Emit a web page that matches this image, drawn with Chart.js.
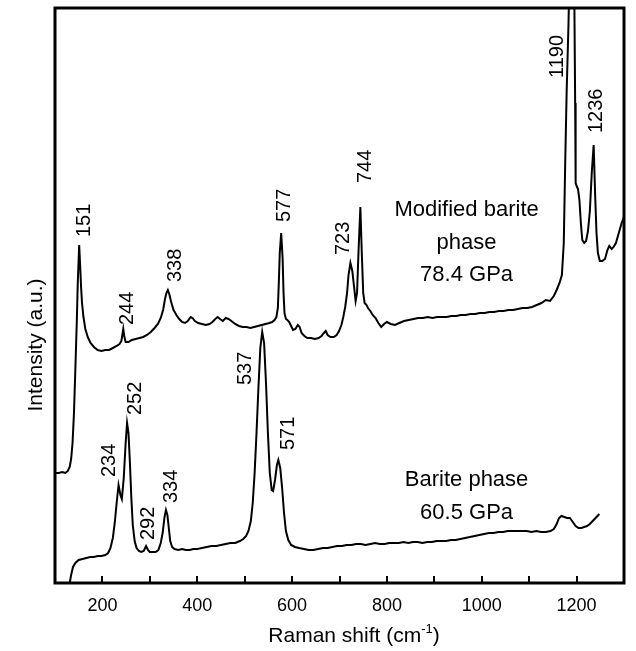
<!DOCTYPE html>
<html>
<head>
<meta charset="utf-8">
<title>Raman spectra</title>
<script src="https://cdn.jsdelivr.net/npm/chart.js@4.4.0/dist/chart.umd.min.js"></script>
<style>
  body { margin: 0; background: #fff; }
  #wrap { width: 636px; height: 651px; position: relative; }
</style>
</head>
<body>
<div id="wrap"><canvas id="raman"></canvas></div>
<script>
// Barite phase, 60.5 GPa
const bariteShift = [131, 134, 138, 143, 150, 158, 166, 174, 182, 190, 198, 206, 212, 217, 222, 226, 230, 234, 238, 241,
  245, 249, 252, 255, 258, 261, 264, 268, 272, 277, 282, 287, 292, 296, 300, 306, 312, 318, 323, 327,
  331, 334, 337, 340, 343, 347, 352, 360, 368, 376, 384, 392, 400, 410, 420, 430, 440, 450, 460, 470,
  480, 490, 497, 503, 508, 513, 517, 521, 525, 529, 533, 537, 541, 545, 549, 553, 557, 560, 564, 568,
  571, 575, 579, 583, 587, 592, 598, 606, 615, 625, 635, 645, 655, 665, 675, 685, 695, 705, 715, 725,
  735, 745, 755, 765, 775, 785, 795, 805, 815, 825, 835, 845, 855, 865, 875, 885, 895, 905, 915, 925,
  935, 945, 955, 965, 975, 985, 995, 1005, 1015, 1025, 1035, 1045, 1055, 1065, 1075, 1085, 1095, 1105, 1115, 1125,
  1135, 1145, 1152, 1158, 1163, 1168, 1174, 1180, 1186, 1192, 1198, 1204, 1210, 1216, 1222, 1228, 1234, 1240, 1248];
const bariteIntensity = [0, 8, 16, 20, 23, 24, 25, 26, 26, 27, 27, 28, 30, 35, 45, 60, 80, 98, 88, 84,
  105, 140, 160, 150, 120, 85, 58, 42, 35, 32, 31, 32, 37, 33, 31, 31, 31, 33, 40, 50,
  66, 73, 68, 55, 42, 36, 34, 33, 34, 33, 33, 34, 34, 35, 36, 37, 37, 38, 39, 40,
  40, 42, 44, 47, 52, 62, 80, 110, 150, 195, 235, 251, 240, 200, 150, 110, 93, 92, 103, 118,
  123, 115, 95, 70, 52, 43, 38, 36, 35, 34, 33, 33, 34, 35, 35, 36, 37, 37, 38, 38,
  39, 39, 38, 39, 40, 39, 39, 40, 40, 40, 41, 40, 41, 41, 40, 41, 41, 42, 42, 42,
  43, 43, 44, 45, 46, 47, 48, 49, 50, 50, 51, 51, 52, 52, 52, 52, 52, 51, 52, 51,
  51, 52, 54, 59, 65, 67, 66, 65, 65, 61, 57, 55, 55, 56, 57, 59, 62, 65, 69];

// Modified barite phase, 78.4 GPa
const modShift = [101, 108, 115, 122, 127, 131, 134, 137, 140, 143, 146, 148, 151, 153, 155, 157, 160, 164, 169, 175,
  182, 190, 198, 206, 214, 222, 230, 236, 240, 242, 244, 246, 249, 255, 262, 270, 278, 286, 294, 302,
  310, 317, 323, 328, 332, 335, 338, 341, 345, 350, 356, 362, 368, 374, 380, 386, 390, 395, 402, 410,
  418, 426, 432, 438, 443, 448, 454, 460, 466, 472, 480, 488, 496, 504, 512, 520, 528, 536, 544, 552,
  558, 563, 567, 570, 572, 574, 577, 580, 582, 584, 587, 590, 594, 598, 602, 607, 612, 616, 620, 626,
  632, 640, 648, 656, 662, 667, 671, 675, 681, 688, 694, 699, 704, 708, 712, 716, 719, 723, 727, 731,
  734, 737, 740, 744, 747, 750, 753, 757, 760, 765, 770, 776, 782, 788, 794, 800, 808, 817, 826, 836,
  846, 856, 866, 876, 886, 896, 906, 916, 926, 936, 946, 956, 966, 976, 986, 996, 1006, 1016, 1026, 1036,
  1046, 1056, 1066, 1076, 1086, 1096, 1106, 1116, 1126, 1135, 1144, 1152, 1158, 1164, 1169, 1173, 1176, 1179, 1183, 1187,
  1190, 1193, 1195, 1197, 1198, 1201, 1203, 1206, 1209, 1212, 1216, 1220, 1224, 1228, 1232, 1236, 1239, 1242, 1245, 1249,
  1254, 1260, 1265, 1269, 1274, 1278, 1283, 1289, 1295, 1300];
const modIntensity = [110, 110, 111, 110, 112, 116, 124, 140, 170, 215, 262, 300, 338, 318, 296, 280, 266, 254, 246, 240,
  236, 233, 232, 233, 233, 235, 237, 239, 242, 248, 254, 247, 241, 241, 243, 244, 245, 246, 248, 251,
  255, 259, 265, 273, 284, 290, 293, 289, 281, 273, 268, 264, 261, 260, 262, 266, 265, 262, 260, 259,
  258, 259, 261, 264, 266, 264, 262, 265, 264, 262, 259, 257, 256, 256, 255, 256, 257, 258, 259, 260,
  261, 263, 266, 275, 300, 330, 350, 325, 290, 270, 264, 263, 261, 257, 253, 254, 258, 256, 250, 247,
  245, 245, 244, 245, 247, 250, 252, 248, 246, 246, 248, 252, 258, 266, 276, 290, 308, 320, 312, 295,
  282, 290, 330, 376, 330, 290, 280, 278, 275, 272, 268, 265, 260, 256, 259, 261, 259, 258, 260, 262,
  263, 264, 265, 265, 266, 265, 266, 266, 266, 267, 267, 268, 268, 269, 269, 270, 270, 271, 271, 272,
  272, 273, 273, 274, 275, 275, 276, 278, 280, 283, 282, 287, 293, 300, 308, 340, 420, 490, 560, 660,
  720, 680, 600, 480, 400, 396, 394, 383, 360, 343, 340, 342, 352, 372, 410, 438, 390, 350, 330, 322,
  322, 324, 333, 337, 334, 336, 340, 350, 360, 366];

// assigned band positions (cm-1)
const baritePeaks = [234, 252, 292, 334, 537, 571];
const modPeaks = [151, 244, 338, 577, 723, 744, 1190, 1236];

// where each band number sits (shift, intensity of the label foot)
const bariteLabelAt = [[214, 106], [270, 168], [298, 43], [345, 80], [501, 198], [593, 133]];
const modLabelAt = [[162, 346], [252, 258], [354, 301], [584, 361], [709, 328], [755, 400], [1160, 505], [1243, 450]];

const xTicks = [200, 400, 600, 800, 1000, 1200];

const FONT = "'Liberation Sans', Arial, sans-serif";

function toPoints(xs, ys) {
  return xs.map((x, i) => ({ x: x, y: ys[i] }));
}

const annotate = {
  id: 'annotate',
  afterDatasetsDraw(chart) {
    const ctx = chart.ctx;
    const area = chart.chartArea;
    const xs = chart.scales.x;
    const ys = chart.scales.y;
    ctx.save();

    // inward tick marks
    ctx.strokeStyle = '#000';
    ctx.lineWidth = 2;
    xs.ticks.forEach(t => {
      const px = Math.round(xs.getPixelForValue(t.value));
      ctx.beginPath();
      ctx.moveTo(px, area.bottom);
      ctx.lineTo(px, area.bottom - 7);
      ctx.stroke();
    });

    // frame
    ctx.lineWidth = 3;
    ctx.strokeRect(area.left, area.top, area.right - area.left, area.bottom - area.top);

    // band numbers, rotated
    ctx.fillStyle = '#000';
    ctx.font = '20px ' + FONT;
    ctx.textAlign = 'left';
    ctx.textBaseline = 'middle';
    const drawBand = (val, at) => {
      ctx.save();
      ctx.translate(xs.getPixelForValue(at[0]), ys.getPixelForValue(at[1]));
      ctx.rotate(-Math.PI / 2);
      ctx.fillText(String(val), 0, 0);
      ctx.restore();
    };
    baritePeaks.forEach((p, i) => drawBand(p, bariteLabelAt[i]));
    modPeaks.forEach((p, i) => drawBand(p, modLabelAt[i]));

    // phase captions
    ctx.font = '22px ' + FONT;
    ctx.textAlign = 'center';
    const cx = xs.getPixelForValue(968);
    ctx.fillText('Modified barite', cx, ys.getPixelForValue(373));
    ctx.fillText('phase', cx, ys.getPixelForValue(340));
    ctx.fillText('78.4 GPa', cx, ys.getPixelForValue(308));
    ctx.fillText('Barite phase', cx, ys.getPixelForValue(103));
    ctx.fillText('60.5 GPa', cx, ys.getPixelForValue(70));

    // axis titles
    ctx.font = '21px ' + FONT;
    ctx.textBaseline = 'alphabetic';
    ctx.textAlign = 'left';
    const main = 'Raman shift (cm';
    ctx.font = '21px ' + FONT;
    const wMain = ctx.measureText(main).width;
    ctx.font = '13px ' + FONT;
    const wSup = ctx.measureText('-1').width;
    ctx.font = '21px ' + FONT;
    const wEnd = ctx.measureText(')').width;
    let tx = 354 - (wMain + wSup + wEnd) / 2;
    const ty = 642;
    ctx.fillText(main, tx, ty);
    tx += wMain;
    ctx.font = '13px ' + FONT;
    ctx.fillText('-1', tx, ty - 9);
    tx += wSup;
    ctx.font = '21px ' + FONT;
    ctx.fillText(')', tx, ty);

    ctx.save();
    ctx.translate(42, 345);
    ctx.rotate(-Math.PI / 2);
    ctx.textAlign = 'center';
    ctx.fillText('Intensity (a.u.)', 0, 0);
    ctx.restore();

    ctx.restore();
  }
};

new Chart(document.getElementById('raman'), {
  type: 'line',
  data: {
    datasets: [
      {
        label: 'Modified barite phase',
        data: toPoints(modShift, modIntensity),
        borderColor: '#000',
        borderWidth: 2,
        pointRadius: 0,
        tension: 0
      },
      {
        label: 'Barite phase',
        data: toPoints(bariteShift, bariteIntensity),
        borderColor: '#000',
        borderWidth: 2,
        pointRadius: 0,
        tension: 0
      }
    ]
  },
  options: {
    responsive: true,
    maintainAspectRatio: false,
    animation: false,
    layout: { padding: { left: 55, top: 8, right: 4, bottom: 0 } },
    plugins: {
      legend: { display: false },
      tooltip: { enabled: false }
    },
    scales: {
      x: {
        type: 'linear',
        min: 100,
        max: 1300,
        afterFit(scale) { scale.height = 68; },
        grid: { display: false, drawTicks: false },
        border: { display: false },
        ticks: {
          stepSize: 100,
          autoSkip: false,
          maxRotation: 0,
          padding: 12,
          color: '#000',
          font: { family: FONT, size: 18 },
          callback: v => xTicks.includes(v) ? String(v) : ''
        }
      },
      y: {
        display: false,
        min: 0,
        max: 575
      }
    }
  },
  plugins: [annotate]
});
</script>
</body>
</html>
